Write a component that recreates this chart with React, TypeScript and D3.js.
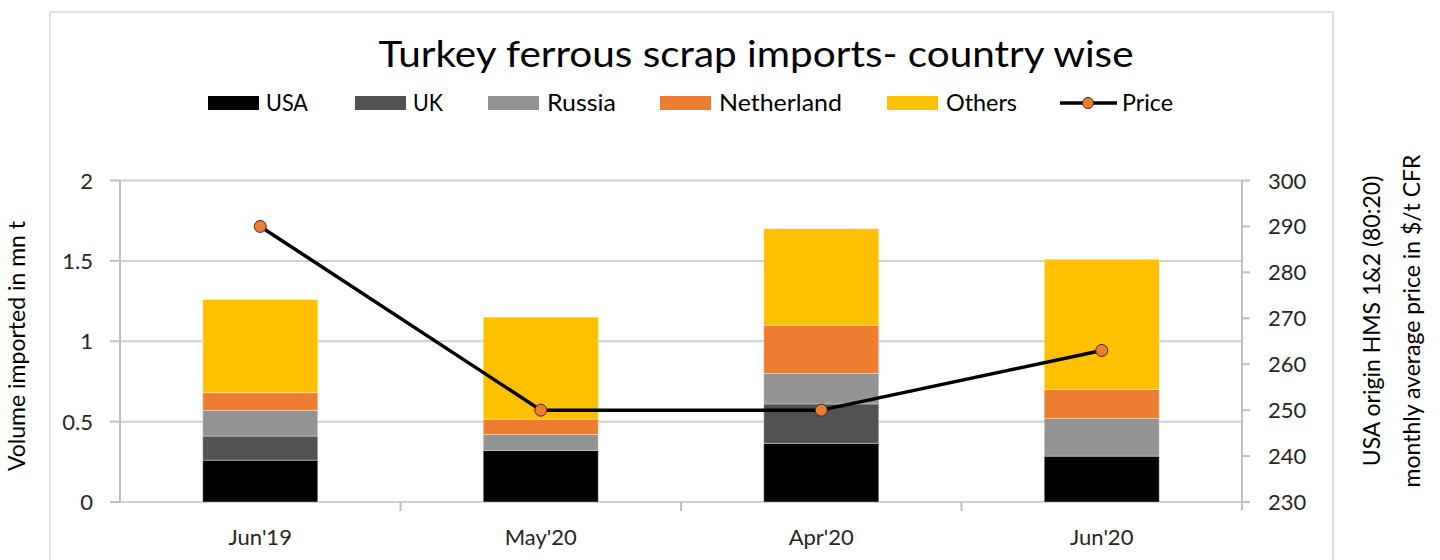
import React from "react";
import * as d3 from "d3";

const categories = ["Jun'19", "May'20", "Apr'20", "Jun'20"];
const seriesNames = ["USA", "UK", "Russia", "Netherland", "Others"];
const usa = [0.26, 0.32, 0.365, 0.285];
const uk = [0.15, 0, 0.245, 0];
const russia = [0.16, 0.1, 0.19, 0.235];
const netherland = [0.11, 0.095, 0.3, 0.18];
const others = [0.58, 0.635, 0.6, 0.81];
const price = [290, 250, 250, 263];
const leftTicks = [0, 0.5, 1, 1.5, 2];
const rightTicks = [230, 240, 250, 260, 270, 280, 290, 300];
const colors = ["#000000", "#525252", "#939393", "#ED7D31", "#FFC000"];

const FONT = "Lato, 'Open Sans', sans-serif";

export default function App() {
  const W = 1440, H = 560;
  const left = 120, right = 1242, top = 180.5, bottom = 502;
  const x = d3.scaleBand().domain(categories).range([left, right]).paddingInner(0.59).paddingOuter(0.295);
  const band = (right - left) / categories.length;
  const y = d3.scaleLinear().domain([0, 2]).range([bottom, top]);
  const y2 = d3.scaleLinear().domain([230, 300]).range([bottom, top]);
  const rows = categories.map((c, i) => ({ c, USA: usa[i], UK: uk[i], Russia: russia[i], Netherland: netherland[i], Others: others[i] }));
  const stacked = d3.stack<any>().keys(seriesNames)(rows);
  const cx = (c: string) => (x(c) as number) + x.bandwidth() / 2;
  const line = d3.line<number>().x((_, i) => cx(categories[i])).y((d) => y2(d));
  const tickCol = "#262626";

  const legendItems = [
    { name: "USA", sx: 208, tx: 266, w: 42 },
    { name: "UK", sx: 355, tx: 413, w: 30 },
    { name: "Russia", sx: 488, tx: 547, w: 69 },
    { name: "Netherland", sx: 660, tx: 719, w: 123 },
    { name: "Others", sx: 887, tx: 946, w: 71 },
  ];

  return (
    <svg width={W} height={H} style={{ position: "absolute", left: 0, top: 0, background: "#fff" }} fontFamily={FONT}>
      <rect x={50} y={12} width={1283} height={600} fill="#fff" stroke="#d9d9d9" strokeWidth={1.5} />
      <text x={756} y={67} textAnchor="middle" fontSize={36} fill="#000" textLength={755} lengthAdjust="spacingAndGlyphs">
        Turkey ferrous scrap imports- country wise
      </text>
      {legendItems.map((l, i) => (
        <g key={l.name}>
          <rect x={l.sx} y={96} width={51} height={14} fill={colors[i]} />
          <text x={l.tx} y={111} fontSize={23} fill="#000" textLength={l.w} lengthAdjust="spacingAndGlyphs">{l.name}</text>
        </g>
      ))}
      <g>
        <line x1={1060} x2={1117} y1={103} y2={103} stroke="#000" strokeWidth={3.5} />
        <circle cx={1088} cy={103} r={5.5} fill="#ED7D31" stroke="#3a2a1a" strokeWidth={1} />
        <text x={1122} y={111} fontSize={23} fill="#000" textLength={51} lengthAdjust="spacingAndGlyphs">Price</text>
      </g>
      {leftTicks.map((t) => (
        <g key={t}>
          <line x1={left} x2={right} y1={y(t)} y2={y(t)} stroke="#d0d0d0" strokeWidth={2} />
          <line x1={110} x2={left} y1={y(t)} y2={y(t)} stroke="#bfbfbf" strokeWidth={2} />
          <text x={93} y={y(t) + 8} textAnchor="end" fontSize={22} fill={tickCol}>{t}</text>
        </g>
      ))}
      <line x1={left} x2={left} y1={top} y2={bottom} stroke="#bfbfbf" strokeWidth={2} />
      <line x1={right} x2={right} y1={top} y2={bottom + 8} stroke="#bfbfbf" strokeWidth={2} />
      {rightTicks.map((t) => (
        <g key={t}>
          <line x1={right} x2={1250} y1={y2(t)} y2={y2(t)} stroke="#bfbfbf" strokeWidth={2} />
          <text x={1268} y={y2(t) + 8} fontSize={22} fill={tickCol}>{t}</text>
        </g>
      ))}
      {[1, 2, 3].map((k) => (
        <line key={k} x1={left + band * k} x2={left + band * k} y1={bottom} y2={bottom + 9} stroke="#bfbfbf" strokeWidth={2} />
      ))}
      {stacked.map((s, si) => (
        <g key={s.key} fill={colors[si]}>
          {s.map((d, i) =>
            d[1] - d[0] > 0 ? (
              <rect key={i} x={x(categories[i])} y={y(d[1])} width={x.bandwidth()} height={y(d[0]) - y(d[1])} stroke="rgba(255,255,255,0.35)" strokeWidth={1} />
            ) : null
          )}
        </g>
      ))}
      <path d={line(price) as string} fill="none" stroke="#000" strokeWidth={3.5} strokeLinejoin="round" />
      {price.map((p, i) => (
        <circle key={i} cx={cx(categories[i])} cy={y2(p)} r={6} fill="#ED7D31" stroke="#3a2a1a" strokeWidth={1} />
      ))}
      {categories.map((c) => (
        <text key={c} x={cx(c)} y={545} textAnchor="middle" fontSize={22} fill={tickCol}>{c}</text>
      ))}
      <text transform={`translate(25,346) rotate(-90)`} textAnchor="middle" fontSize={23} fill="#000">
        Volume imported in mn t
      </text>
      <text transform={`translate(1380,321) rotate(-90)`} textAnchor="middle" fontSize={23} fill="#000">
        USA origin HMS 1&amp;2 (80:20)
      </text>
      <text transform={`translate(1420,321) rotate(-90)`} textAnchor="middle" fontSize={23} fill="#000">
        monthly average price in $/t CFR
      </text>
    </svg>
  );
}
